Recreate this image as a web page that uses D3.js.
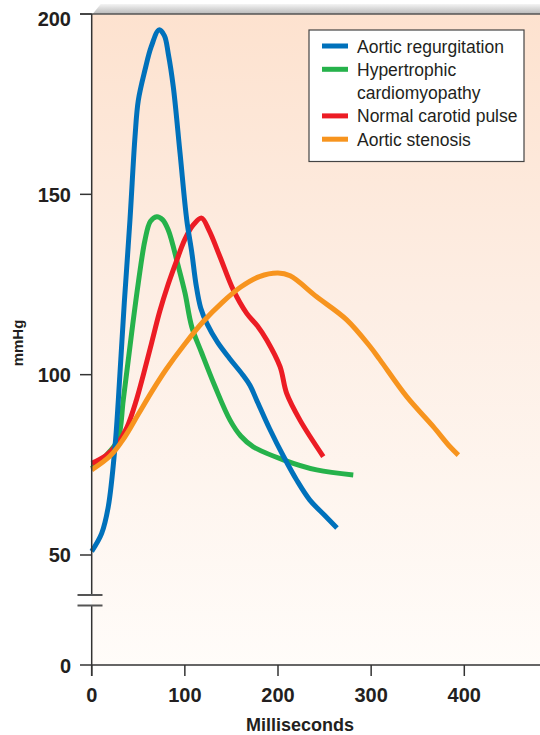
<!DOCTYPE html>
<html><head><meta charset="utf-8">
<script src="https://cdn.jsdelivr.net/npm/d3@7"></script>
<style>html,body{margin:0;padding:0;background:#fff;}svg{display:block;}</style>
</head><body>
<script>
// ---- data (ms, mmHg) ----
const seriesNames = ["Aortic regurgitation","Hypertrophic cardiomyopathy","Normal carotid pulse","Aortic stenosis"];
const legendLines = [["Aortic regurgitation"],["Hypertrophic","cardiomyopathy"],["Normal carotid pulse"],["Aortic stenosis"]];
const aorticRegurgitation = [[0,51],[10.7,56],[17.8,63.4],[25,80],[28.6,93],[35,120],[41.1,143],[46.5,166],[50,176],[57.2,184.5],[64,191],[72.3,195.6],[78,194],[82.2,189],[87.6,179.8],[94.8,161.5],[102,143],[107.4,134],[112,125],[117,118.5],[124,114],[135,109],[148,104.5],[162,100],[170,97],[177,93],[191,85],[206,77.3],[220,70.8],[234,65.3],[250,61],[263.3,57.5]];
const hypertrophicCM = [[0,74],[15,77.5],[28,82],[33.9,93],[42.9,111.6],[50,125.4],[57.2,137.3],[63,142.5],[69.8,143.8],[76,143],[82.2,140.1],[93,130],[100.2,122.6],[107.4,113.3],[118.1,106],[132.4,96.7],[148.5,87.4],[160,83],[173.5,80],[205.7,76.4],[241.5,73.6],[280.8,72.2]];
const normalCarotid = [[0,75.4],[15,77.5],[28,81],[38,85.5],[48,93],[56,100.5],[64,108.5],[73,117.5],[82,125],[91,131.5],[100,137.5],[109,141.5],[118,143.4],[126,140],[137.7,132.7],[152,123.5],[166.4,117],[178,113.5],[187.9,109.6],[202.2,102.2],[209.3,94.8],[223.6,87.4],[248.6,77.3]];
const aorticStenosis = [[0,73.6],[20,77.5],[35,82.5],[50,89],[65,95.5],[80,101.5],[100,108.5],[120,114.8],[140,120],[160,124.3],[180,127.2],[200,128.2],[213,127.4],[241.5,121.6],[273.8,115.2],[298.8,107.8],[309.5,104.1],[338.2,93.9],[366.7,85.6],[384.7,80],[393.6,77.7]];
const seriesColors = ["#0071bb","#26b24b","#ec1c24","#f7941e"];
const xTicks = [0,100,200,300,400];
const yTicksUpper = [50,100,150,200];
const yTicksLower = [0];
const xTitle = "Milliseconds";
const yTitle = "mmHg";

const W = 540, H = 735;
const svg = d3.select("body").append("svg").attr("width",W).attr("height",H);
const defs = svg.append("defs");

const x = d3.scaleLinear().domain([0,400]).range([91.7,464.3]);
const y = d3.scaleLinear().domain([50,200]).range([555,14]);
const yLow = d3.scaleLinear().domain([0,50]).range([665,555]);

const bg = defs.append("linearGradient").attr("id","bg").attr("x1",0).attr("y1",0).attr("x2",0).attr("y2",1);
bg.append("stop").attr("offset","0%").attr("stop-color","#fde2cf");
bg.append("stop").attr("offset","45%").attr("stop-color","#fdeee4");
bg.append("stop").attr("offset","100%").attr("stop-color","#fffcf9");
const bev = defs.append("linearGradient").attr("id","bev").attr("x1",0).attr("y1",0).attr("x2",0).attr("y2",1);
bev.append("stop").attr("offset","0%").attr("stop-color","#f4f4f4");
bev.append("stop").attr("offset","100%").attr("stop-color","#b9b9b9");

const pLeft = x(0), pTop = y(200), pBottom = yLow(0);
svg.append("rect").attr("x",pLeft).attr("y",pTop).attr("width",W-pLeft).attr("height",pBottom-pTop).attr("fill","url(#bg)");
svg.append("path").attr("d",`M${pLeft+1},${pTop} L${pLeft+9},${pTop-10} L${W},${pTop-10} L${W},${pTop} Z`).attr("fill","url(#bev)");
svg.append("line").attr("x1",80).attr("x2",W).attr("y1",pTop).attr("y2",pTop).attr("stroke","#555").attr("stroke-width",1.5);

// series
const line = d3.line().x(d=>x(d[0])).y(d=>y(d[1])).curve(d3.curveCatmullRom.alpha(0.5));
const data = [hypertrophicCM, normalCarotid, aorticRegurgitation, aorticStenosis];
const cols = [seriesColors[1], seriesColors[2], seriesColors[0], seriesColors[3]];
data.forEach((s,i)=>{
  svg.append("path").attr("d",line(s)).attr("fill","none").attr("stroke",cols[i]).attr("stroke-width",5).attr("stroke-linejoin","round");
});

// axes
const ax = "#333";
svg.append("line").attr("x1",pLeft).attr("x2",pLeft).attr("y1",pTop).attr("y2",595).attr("stroke",ax).attr("stroke-width",1.5);
svg.append("line").attr("x1",pLeft).attr("x2",pLeft).attr("y1",605.5).attr("y2",676).attr("stroke",ax).attr("stroke-width",1.5);
[595,605.5].forEach(v=>svg.append("line").attr("x1",77.5).attr("x2",102.5).attr("y1",v).attr("y2",v).attr("stroke","#555").attr("stroke-width",2));
svg.append("line").attr("x1",80).attr("x2",W).attr("y1",pBottom).attr("y2",pBottom).attr("stroke",ax).attr("stroke-width",1.5);

const tickFont = "'Liberation Sans Narrow','Arial Narrow','Liberation Sans',sans-serif";
yTicksUpper.forEach(t=>{
  svg.append("line").attr("x1",80).attr("x2",pLeft).attr("y1",y(t)).attr("y2",y(t)).attr("stroke",ax).attr("stroke-width",1.5);
  svg.append("text").attr("x",71).attr("y",y(t) + (t===200?5:0)).attr("dy","0.36em").attr("text-anchor","end")
    .attr("font-family",tickFont).attr("font-weight","bold").attr("font-size",20).attr("fill","#231f20").text(t);
});
yTicksLower.forEach(t=>{
  svg.append("text").attr("x",71).attr("y",yLow(t)+1).attr("dy","0.36em").attr("text-anchor","end")
    .attr("font-family",tickFont).attr("font-weight","bold").attr("font-size",20).attr("fill","#231f20").text(t);
});
xTicks.forEach(t=>{
  svg.append("line").attr("x1",x(t)).attr("x2",x(t)).attr("y1",pBottom).attr("y2",676).attr("stroke",ax).attr("stroke-width",1.5);
  svg.append("text").attr("x",x(t)).attr("y",701.5).attr("text-anchor","middle")
    .attr("font-family",tickFont).attr("font-weight","bold").attr("font-size",20).attr("fill","#231f20").text(t);
});
svg.append("text").attr("x",300).attr("y",731).attr("text-anchor","middle")
  .attr("font-family","'Liberation Sans',Arial,sans-serif").attr("font-weight","bold").attr("font-size",18).attr("fill","#231f20").text(xTitle);
svg.append("text").attr("transform","translate(23,343) rotate(-90)").attr("text-anchor","middle")
  .attr("font-family","'Liberation Sans',Arial,sans-serif").attr("font-weight","bold").attr("font-size",15).attr("fill","#231f20").text(yTitle);

// legend
const lg = svg.append("g");
lg.append("rect").attr("x",309).attr("y",30).attr("width",215).attr("height",131.5).attr("fill","#fff").attr("stroke","#444").attr("stroke-width",1.2);
let row = 0;
legendLines.forEach((lines,i)=>{
  const cy = 46 + row*23.3;
  lg.append("line").attr("x1",322).attr("x2",348).attr("y1",cy).attr("y2",cy).attr("stroke",seriesColors[i]).attr("stroke-width",5);
  lines.forEach((ln,j)=>{
    lg.append("text").attr("x",357).attr("y",cy + j*23.3 + 6.5).attr("font-family","'Liberation Sans',Arial,sans-serif")
      .attr("font-size",17.5).attr("fill","#231f20").text(ln);
  });
  row += lines.length;
});
</script>
</body></html>
